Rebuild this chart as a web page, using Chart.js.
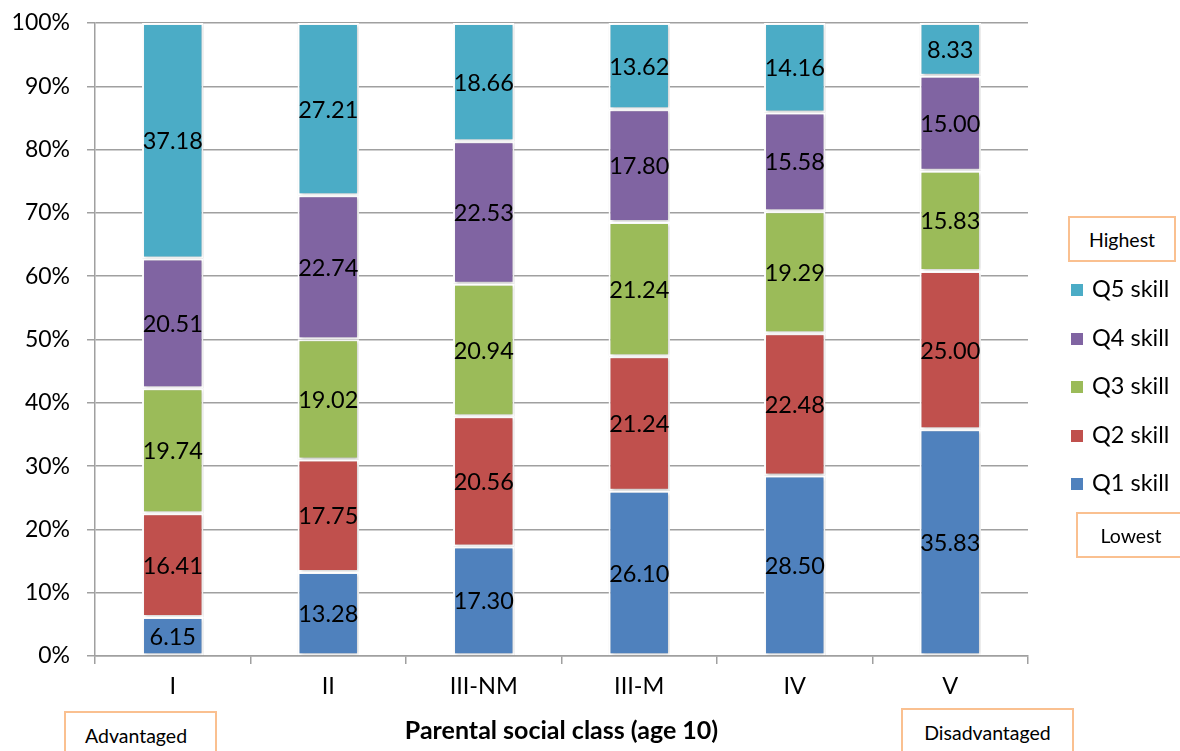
<!DOCTYPE html>
<html>
<head>
<meta charset="utf-8">
<script src="https://cdn.jsdelivr.net/npm/chart.js@4"></script>
<style>
  html, body { margin: 0; padding: 0; background: #fff; }
  #wrap { position: relative; width: 1180px; height: 751px; overflow: hidden; font-family: Lato, "Open Sans", sans-serif; }
  #chart { position: absolute; left: 0; top: 0; }
  .note { position: absolute; box-sizing: border-box; border: 2px solid #fac090; background: #fff;
          font-size: 19.5px; color: #000; display: flex; align-items: center; justify-content: center; }
  #legend { position: absolute; left: 1071px; top: 266px; }
  .item { height: 48.5px; display: flex; align-items: center; font-size: 23.5px; color: #000; }
  .item .sw { width: 12px; height: 12px; margin-right: 9px; }
  .item .lb { position: relative; top: -2px; }
</style>
</head>
<body>
<div id="wrap">
  <canvas id="chart" width="1180" height="751"></canvas>
  <div class="note" style="left:1068px; top:216px; width:108px; height:46px;">Highest</div>
  <div id="legend"></div>
  <div class="note" style="left:1076px; top:512px; width:110px; height:46px;">Lowest</div>
  <div class="note" style="left:64px; top:711px; width:153px; height:50px; justify-content:flex-start; padding-left:19px; align-items:flex-start; padding-top:11px;">Advantaged</div>
  <div class="note" style="left:901px; top:708px; width:173px; height:50px; align-items:flex-start; padding-top:11px;">Disadvantaged</div>
</div>
<script>
// Parental social class at age 10
const categories = ['I', 'II', 'III-NM', 'III-M', 'IV', 'V'];

// Share of each class in each skill quintile (%)
const q1Skill = [6.15, 13.28, 17.30, 26.10, 28.50, 35.83];
const q2Skill = [16.41, 17.75, 20.56, 21.24, 22.48, 25.00];
const q3Skill = [19.74, 19.02, 20.94, 21.24, 19.29, 15.83];
const q4Skill = [20.51, 22.74, 22.53, 17.80, 15.58, 15.00];
const q5Skill = [37.18, 27.21, 18.66, 13.62, 14.16, 8.33];

const seriesNames = ['Q1 skill', 'Q2 skill', 'Q3 skill', 'Q4 skill', 'Q5 skill'];
const seriesValues = [q1Skill, q2Skill, q3Skill, q4Skill, q5Skill];
const seriesColors = ['#4f81bd', '#c0504d', '#9bbb59', '#8064a2', '#4bacc6'];

const yTicks = [0, 10, 20, 30, 40, 50, 60, 70, 80, 90, 100];

const FONT = 'Lato, "Open Sans", sans-serif';

// Soft drop shadow behind the bars
const barShadow = {
  id: 'barShadow',
  beforeDatasetsDraw(chart) {
    const ctx = chart.ctx;
    ctx.save();
    ctx.shadowColor = 'rgba(0,0,0,0.28)';
    ctx.shadowBlur = 3;
    ctx.shadowOffsetX = 1;
    ctx.shadowOffsetY = 1;
  },
  afterDatasetsDraw(chart) {
    chart.ctx.restore();
  }
};

// Value printed in the middle of each segment
const segmentLabels = {
  id: 'segmentLabels',
  afterDatasetsDraw(chart) {
    const ctx = chart.ctx;
    ctx.save();
    ctx.font = '23.5px ' + FONT;
    ctx.fillStyle = '#000';
    ctx.textAlign = 'center';
    ctx.textBaseline = 'middle';
    chart.data.datasets.forEach((ds, i) => {
      const meta = chart.getDatasetMeta(i);
      meta.data.forEach((bar, j) => {
        const p = bar.getCenterPoint();
        ctx.fillText(ds.data[j].toFixed(2), p.x, p.y + 1);
      });
    });
    ctx.restore();
  }
};

const datasets = seriesNames.map((name, i) => ({
  label: name,
  data: seriesValues[i],
  backgroundColor: seriesColors[i],
  borderColor: '#ffffff',
  borderWidth: 2,
  borderSkipped: false,
  categoryPercentage: 1.0,
  barPercentage: 0.395
}));

new Chart(document.getElementById('chart'), {
  type: 'bar',
  data: { labels: categories, datasets },
  plugins: [barShadow, segmentLabels],
  options: {
    responsive: false,
    animation: false,
    layout: { padding: { left: 0, right: 152, top: 23, bottom: 0 } },
    plugins: {
      legend: { display: false },
      tooltip: { enabled: false }
    },
    scales: {
      x: {
        stacked: true,
        offset: true,
        grid: { offset: true, drawOnChartArea: false, drawTicks: true, tickLength: 8, color: '#a0a0a0', lineWidth: 1.5 },
        border: { display: true, color: '#a0a0a0', width: 1.5 },
        ticks: { color: '#000', font: { family: FONT, size: 23.5 }, padding: 8 },
        title: {
          display: true,
          text: 'Parental social class (age 10)',
          color: '#000',
          font: { family: FONT, size: 25, weight: 'bold' },
          padding: { top: 4, bottom: 5 }
        },
        afterFit(scale) { scale.height = 95; }
      },
      y: {
        stacked: true,
        min: 0,
        max: 100,
        afterBuildTicks(scale) { scale.ticks = yTicks.map(v => ({ value: v })); },
        grid: { color: '#a0a0a0', lineWidth: 1.5, tickLength: 8 },
        border: { display: true, color: '#a0a0a0', width: 1.5 },
        ticks: {
          color: '#000',
          font: { family: FONT, size: 23 },
          padding: 17,
          callback: v => v + '%'
        },
        afterFit(scale) {
          scale.width = 95;
          scale.paddingTop = 14;
          scale.paddingBottom = 14;
        }
      }
    }
  }
});

// Legend listed from the highest quintile down
const legend = document.getElementById('legend');
for (let i = seriesNames.length - 1; i >= 0; i--) {
  const row = document.createElement('div');
  row.className = 'item';
  const sw = document.createElement('span');
  sw.className = 'sw';
  sw.style.background = seriesColors[i];
  const lb = document.createElement('span');
  lb.className = 'lb';
  lb.textContent = seriesNames[i];
  row.appendChild(sw);
  row.appendChild(lb);
  legend.appendChild(row);
}
</script>
</body>
</html>
